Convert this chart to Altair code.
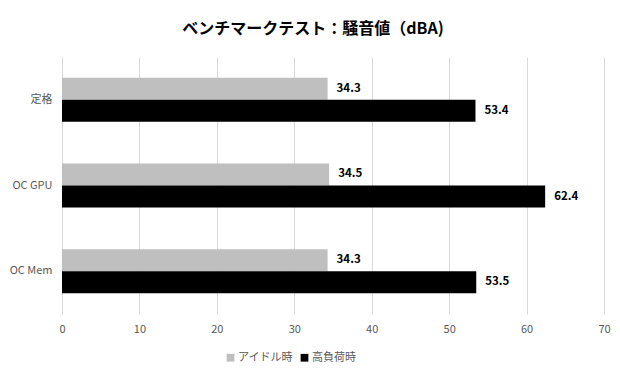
import altair as alt
import pandas as pd

categories = ["定格", "OC GPU", "OC Mem"]
series_names = ["アイドル時", "高負荷時"]
idle_values = [34.3, 34.5, 34.3]
load_values = [53.4, 62.4, 53.5]
x_ticks = [0, 10, 20, 30, 40, 50, 60, 70]
colors = ["#BFBFBF", "#000000"]

rows = []
for c, a, b in zip(categories, idle_values, load_values):
    rows.append({"cat": c, "series": series_names[0], "value": a})
    rows.append({"cat": c, "series": series_names[1], "value": b})
df = pd.DataFrame(rows)

FONT = "Noto Sans CJK JP"

y_enc = alt.Y("cat:N", sort=categories, title=None,
              scale=alt.Scale(paddingInner=0.486, paddingOuter=0.243),
              axis=alt.Axis(labelFont=FONT, labelFontSize=11, labelColor="#595959",
                            ticks=False, labelPadding=10, domainColor="#D9D9D9",
                            grid=False))
x_enc = alt.X("value:Q", title=None,
              scale=alt.Scale(domain=[0, 70], nice=False),
              axis=alt.Axis(values=x_ticks, labelFont=FONT, labelFontSize=11,
                            labelColor="#595959", ticks=False, domain=False,
                            labelFlush=False,
                            gridColor="#D9D9D9", labelPadding=9))
yoff = alt.YOffset("series:N", sort=series_names)

bars = alt.Chart(df).mark_bar().encode(
    y=y_enc,
    x=x_enc,
    yOffset=yoff,
    color=alt.Color("series:N", sort=series_names,
                    scale=alt.Scale(domain=series_names, range=colors),
                    legend=alt.Legend(title=None, orient="none", direction="horizontal",
                                      legendX=163, legendY=295,
                                      symbolType="square", symbolSize=60,
                                      labelFont=FONT, labelFontSize=11,
                                      labelColor="#595959", columnPadding=6,
                                      labelOffset=2,
                                      symbolStrokeWidth=0)),
)

labels = alt.Chart(df).mark_text(align="left", baseline="middle", dx=9,
                                 font=FONT, fontSize=11.5, fontWeight="bold",
                                 color="#000000").encode(
    y=alt.Y("cat:N", sort=categories),
    x=alt.X("value:Q"),
    yOffset=yoff,
    text=alt.Text("value:Q", format=".1f"),
)

chart = (bars + labels).properties(
    width=542, height=257,
    padding={"left": 54, "top": 49, "right": 8, "bottom": 50},
    autosize=alt.AutoSizeParams(type="none"),
    background="white",
    title=alt.TitleParams("ベンチマークテスト：騒音値（dBA)", font=FONT, fontSize=16,
                          fontWeight="bold", color="#000000", anchor="middle",
                          dx=-20, offset=20),
).configure_view(stroke=None, strokeWidth=0)

chart.save("out.html", embed_options={"renderer": "svg", "actions": False})
